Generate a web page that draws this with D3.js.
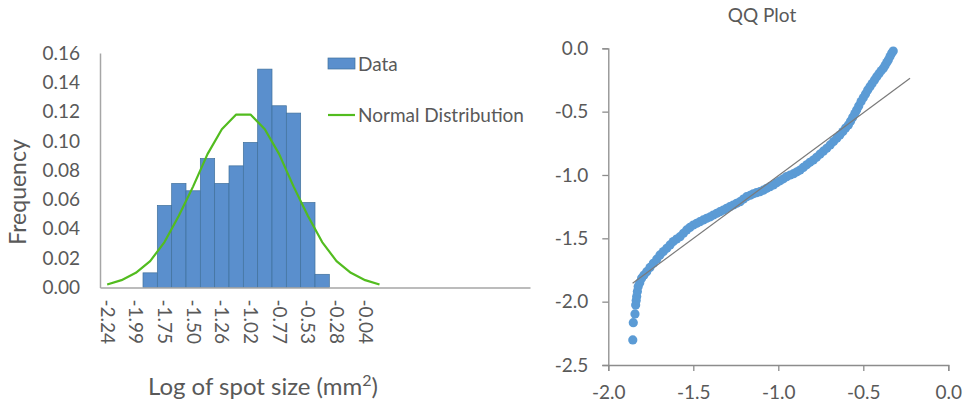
<!DOCTYPE html>
<html>
<head>
<meta charset="utf-8">
<script src="https://cdn.jsdelivr.net/npm/d3@7"></script>
<style>
  html, body { margin: 0; padding: 0; background: #fff; }
  svg { display: block; font-family: Lato, "Open Sans", sans-serif; }
</style>
</head>
<body>
<svg id="chart" width="967" height="408"></svg>
<script>
// ---------- Histogram data ----------
const binLabels = ["-2.24","-2.12","-1.99","-1.87","-1.75","-1.63","-1.50","-1.38","-1.26","-1.14",
                   "-1.02","-0.89","-0.77","-0.65","-0.53","-0.41","-0.28","-0.16","-0.04","0.08",
                   "","","","","","","","","",""];
const shownEvery = 2;
const dataFreq = [null,null,null,0.010,0.056,0.071,0.066,0.088,0.071,0.083,
                  0.099,0.149,0.124,0.119,0.058,0.009,null,null,null,null];
const normalFreq = [0.002,0.005,0.010,0.018,0.031,0.049,0.069,0.091,0.108,0.118,
                    0.118,0.108,0.091,0.069,0.049,0.031,0.018,0.010,0.005,0.002];
const yTicksLeft = [0,0.02,0.04,0.06,0.08,0.10,0.12,0.14,0.16];

// ---------- QQ plot data ----------
const qqTheoretical = [-1.856,-1.853,-1.843,-1.839,-1.836,-1.833,-1.829,-1.824,-1.815,-1.804,
  -1.790,-1.774,-1.755,-1.735,-1.715,-1.696,-1.676,-1.656,-1.637,-1.618,
  -1.598,-1.578,-1.558,-1.539,-1.520,-1.500,-1.480,-1.461,-1.441,-1.421,
  -1.400,-1.382,-1.362,-1.343,-1.323,-1.304,-1.285,-1.265,-1.245,-1.225,
  -1.205,-1.186,-1.165,-1.147,-1.128,-1.108,-1.088,-1.068,-1.049,-1.029,
  -1.010,-0.990,-0.970,-0.951,-0.930,-0.910,-0.890,-0.872,-0.853,-0.833,
  -0.814,-0.794,-0.775,-0.755,-0.735,-0.715,-0.695,-0.675,-0.656,-0.638,
  -0.620,-0.604,-0.588,-0.575,-0.562,-0.550,-0.539,-0.527,-0.513,-0.500,
  -0.487,-0.474,-0.461,-0.448,-0.434,-0.421,-0.408,-0.395,-0.382,-0.372,
  -0.362,-0.353,-0.343,-0.333,-0.324];
const qqObserved = [-2.302,-2.166,-2.097,-2.026,-1.990,-1.960,-1.920,-1.880,-1.850,-1.815,
  -1.790,-1.763,-1.730,-1.697,-1.665,-1.631,-1.605,-1.579,-1.552,-1.526,
  -1.506,-1.487,-1.460,-1.434,-1.414,-1.395,-1.382,-1.369,-1.355,-1.342,
  -1.330,-1.316,-1.303,-1.290,-1.277,-1.263,-1.250,-1.237,-1.224,-1.211,
  -1.190,-1.171,-1.160,-1.148,-1.140,-1.132,-1.120,-1.105,-1.092,-1.079,
  -1.062,-1.046,-1.030,-1.013,-1.000,-0.990,-0.975,-0.961,-0.940,-0.920,
  -0.900,-0.882,-0.860,-0.836,-0.812,-0.789,-0.763,-0.736,-0.710,-0.685,
  -0.657,-0.630,-0.605,-0.575,-0.545,-0.515,-0.487,-0.455,-0.420,-0.390,
  -0.360,-0.330,-0.303,-0.277,-0.250,-0.224,-0.200,-0.178,-0.158,-0.135,
  -0.112,-0.092,-0.065,-0.039,-0.022];
const trendX = [-1.857, -0.225];
const trendY = [-1.855, -0.237];
const qqXTicks = [-2.0,-1.5,-1.0,-0.5,0.0];
const qqYTicks = [0.0,-0.5,-1.0,-1.5,-2.0,-2.5];

// ---------- Styles ----------
const textColor = "#595959";
const barFill = "#5a8fcd";
const barStroke = "#41719c";
const greenLine = "#52bc1f";
const dotColor = "#5b9bd5";
const tickFont = "19px";

const svg = d3.select("#chart");

// ================= LEFT: histogram =================
const xL = d3.scaleBand().domain(d3.range(binLabels.length)).range([100, 530]).padding(0);
const yL = d3.scaleLinear().domain([0, 0.16]).range([287.5, 53]);

const left = svg.append("g");

// bars
left.append("g").selectAll("rect")
  .data(dataFreq.map((v, i) => ({v, i})).filter(d => d.v !== null))
  .join("rect")
  .attr("x", d => xL(d.i))
  .attr("width", xL.bandwidth())
  .attr("y", d => yL(d.v))
  .attr("height", d => yL(0) - yL(d.v))
  .attr("fill", barFill)
  .attr("stroke", barStroke)
  .attr("stroke-width", 0.7);

// normal curve
left.append("path")
  .datum(normalFreq.map((v, i) => ({v, i})))
  .attr("fill", "none")
  .attr("stroke", greenLine)
  .attr("stroke-width", 2.2)
  .attr("stroke-linejoin", "round")
  .attr("d", d3.line().x(d => xL(d.i) + xL.bandwidth() / 2).y(d => yL(d.v)));

// y axis
const yAxL = left.append("g").attr("transform", "translate(100,0)")
  .call(d3.axisLeft(yL).tickValues(yTicksLeft).tickFormat(d => d.toFixed(2)).tickSize(0).tickPadding(20));
yAxL.select(".domain").attr("stroke", "#a6a6a6").attr("stroke-width", 1.5);
yAxL.selectAll("text").attr("fill", textColor).style("font-size", tickFont).style("font-family", "Lato");

// x axis
const xAxL = left.append("g").attr("transform", `translate(0,${yL(0)})`)
  .call(d3.axisBottom(xL).tickSize(0).tickFormat(i => (i % shownEvery === 0 ? binLabels[i] : "")));
xAxL.select(".domain").attr("stroke", "#a6a6a6").attr("stroke-width", 1.5);
xAxL.selectAll("text")
  .attr("fill", textColor)
  .style("font-size", tickFont).style("font-family", "Lato")
  .attr("transform", "rotate(90)")
  .attr("x", 12).attr("y", 0).attr("dy", "0.35em")
  .attr("text-anchor", "start");

// axis titles
left.append("text")
  .attr("transform", "translate(26,192) rotate(-90)")
  .attr("text-anchor", "middle")
  .attr("fill", textColor)
  .style("font-size", "23px")
  .text("Frequency");

const xt = left.append("text")
  .attr("x", 263).attr("y", 395)
  .attr("text-anchor", "middle")
  .attr("fill", textColor)
  .style("font-size", "24px");
xt.append("tspan").text("Log of spot size (mm");
xt.append("tspan").attr("dy", "-9").style("font-size", "16px").text("2");
xt.append("tspan").attr("dy", "9").text(")");

// legend
const legend = left.append("g");
legend.append("rect").attr("x", 328).attr("y", 58).attr("width", 27).attr("height", 11)
  .attr("fill", barFill).attr("stroke", barStroke).attr("stroke-width", 0.7);
legend.append("text").attr("x", 358).attr("y", 71).attr("fill", textColor)
  .style("font-size", tickFont).text("Data");
legend.append("line").attr("x1", 328).attr("x2", 355).attr("y1", 115).attr("y2", 115)
  .attr("stroke", greenLine).attr("stroke-width", 2.2);
legend.append("text").attr("x", 358).attr("y", 122).attr("fill", textColor)
  .style("font-size", tickFont).text("Normal Distribution");

// ================= RIGHT: QQ plot =================
const xR = d3.scaleLinear().domain([-2, 0]).range([608.3, 948.3]);
const yR = d3.scaleLinear().domain([-2.5, 0]).range([365, 48.3]);
const right = svg.append("g");

const fmt1 = d => (Math.abs(d) < 1e-9 ? "0.0" : d.toFixed(1));

const xAxR = right.append("g").attr("transform", `translate(0,${yR(-2.5)})`)
  .call(d3.axisBottom(xR).tickValues(qqXTicks).tickFormat(fmt1).tickSize(6).tickPadding(15));
const yAxR = right.append("g").attr("transform", `translate(${xR(-2)},0)`)
  .call(d3.axisLeft(yR).tickValues(qqYTicks).tickFormat(fmt1).tickSize(6).tickPadding(14));
[xAxR, yAxR].forEach(ax => {
  ax.select(".domain").attr("stroke", "#8c8c8c").attr("stroke-width", 1.3);
  ax.selectAll(".tick line").attr("stroke", "#8c8c8c").attr("stroke-width", 1.3);
  ax.selectAll("text").attr("fill", textColor).style("font-size", tickFont).style("font-family", "Lato");
});

// points
right.append("g").selectAll("circle")
  .data(qqTheoretical.map((x, i) => ({x, y: qqObserved[i]})))
  .join("circle")
  .attr("cx", d => xR(d.x))
  .attr("cy", d => yR(d.y))
  .attr("r", 4.6)
  .attr("fill", dotColor);

// trend line
right.append("path")
  .datum(trendX.map((x, i) => ({x, y: trendY[i]})))
  .attr("fill", "none")
  .attr("stroke", "#7a7a7a")
  .attr("stroke-width", 1.2)
  .attr("d", d3.line().x(d => xR(d.x)).y(d => yR(d.y)));

right.append("text")
  .attr("x", 762).attr("y", 22)
  .attr("text-anchor", "middle")
  .attr("fill", textColor)
  .style("font-size", "19px")
  .text("QQ Plot");
</script>
</body>
</html>
